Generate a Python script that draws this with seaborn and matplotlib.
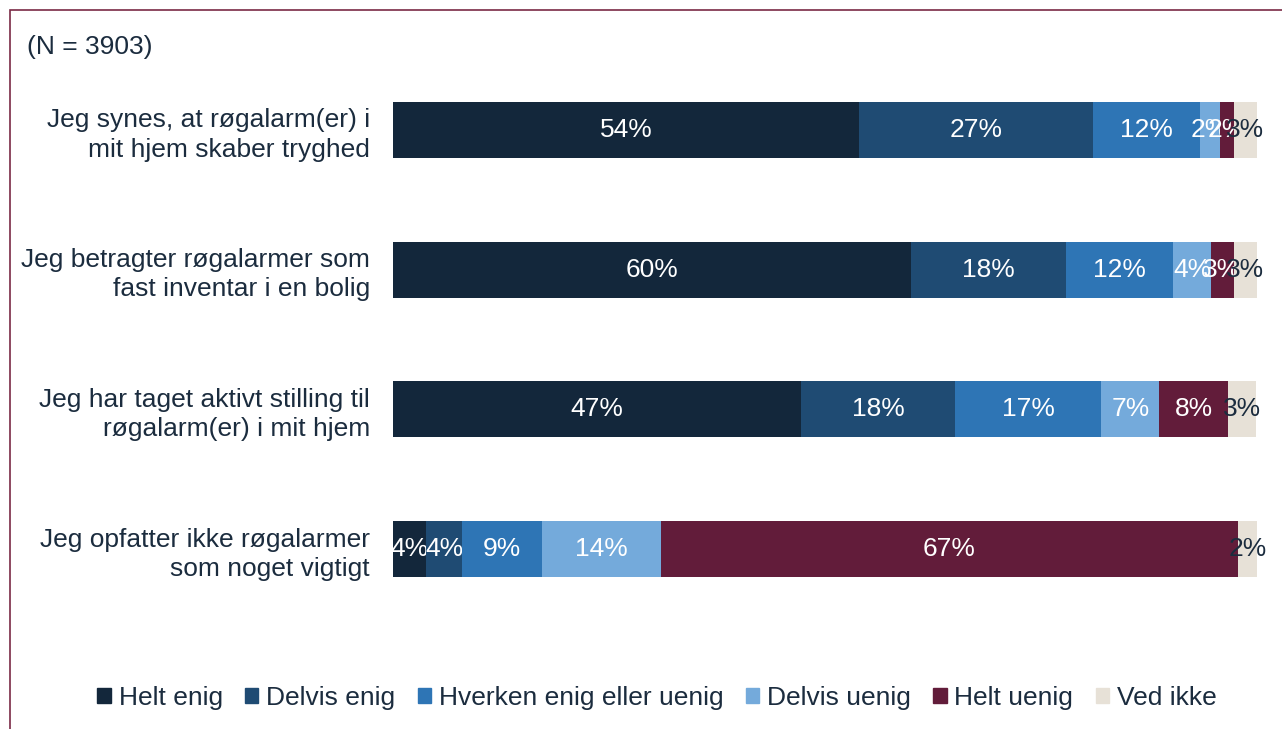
import numpy as np
import pandas as pd
import matplotlib
matplotlib.use('Agg')
import matplotlib.pyplot as plt
import matplotlib.patches as mpatches
import seaborn as sns

# Statements (y categories)
statements = [
    'Jeg synes, at røgalarm(er) i\nmit hjem skaber tryghed',
    'Jeg betragter røgalarmer som\nfast inventar i en bolig',
    'Jeg har taget aktivt stilling til\nrøgalarm(er) i mit hjem',
    'Jeg opfatter ikke røgalarmer\nsom noget vigtigt',
]

# Answer categories
answers = ['Helt enig', 'Delvis enig', 'Hverken enig eller uenig',
           'Delvis uenig', 'Helt uenig', 'Ved ikke']

# Shares in percent
helt_enig = [53.9, 60.0, 47.2, 3.8]
delvis_enig = [27.1, 17.9, 17.9, 4.2]
hverken = [12.4, 12.4, 16.9, 9.3]
delvis_uenig = [2.3, 4.4, 6.7, 13.7]
helt_uenig = [1.6, 2.6, 8.0, 66.8]
ved_ikke = [2.7, 2.7, 3.2, 2.2]

colors = ['#13273B', '#1F4B73', '#2E75B5', '#74AADB', '#621C3A', '#E7E1D7']
text_color = '#1B2C3E'
frame_color = '#7A2A45'
fs = 19

df = pd.DataFrame({
    'statement': statements,
    'Helt enig': helt_enig,
    'Delvis enig': delvis_enig,
    'Hverken enig eller uenig': hverken,
    'Delvis uenig': delvis_uenig,
    'Helt uenig': helt_uenig,
    'Ved ikke': ved_ikke,
})
cum = df[answers].cumsum(axis=1)
starts = cum - df[answers]

sns.set_theme(style='white')
plt.rcParams['font.family'] = ['Liberation Sans', 'DejaVu Sans']

fig = plt.figure(figsize=(12.82, 7.29), dpi=100)
ax = fig.add_axes([393 / 1282, 1 - 619 / 729, 864 / 1282, 559 / 729])

# stacked bars, each series drawn over the labels of the previous ones
for i, a in enumerate(answers):
    sns.barplot(x=df[a], y=df['statement'], orient='h', left=starts[a].values,
                color=colors[i], width=0.4, linewidth=0, saturation=1,
                zorder=2 + 2 * i, ax=ax)
    c = text_color if a == 'Ved ikke' else 'white'
    for r in range(len(df)):
        v = df.loc[r, a]
        mid = starts.loc[r, a] + v / 2
        ax.text(mid, r, f'{round(v):.0f}%', ha='center', va='center',
                fontsize=fs, color=c, zorder=3 + 2 * i)

ax.set_xlim(0, 100)
ax.set_ylim(len(df) - 0.5, -0.5)
ax.set_xlabel('')
ax.set_ylabel('')
ax.set_xticks([])
ax.tick_params(axis='y', length=0, pad=16.5, labelsize=fs, labelcolor=text_color)
for lbl in ax.get_yticklabels():
    lbl.set_linespacing(1.27)
for s in ax.spines.values():
    s.set_visible(False)

# legend
handles = [mpatches.Patch(color=colors[i], label=a) for i, a in enumerate(answers)]
fig.legend(handles=handles, loc='center', bbox_to_anchor=(657 / 1282, 1 - 698 / 729),
           ncol=6, frameon=False, fontsize=fs, handlelength=0.5, handleheight=0.5,
           handletextpad=0.3, columnspacing=0.85, labelcolor=text_color)

# N annotation
fig.text(27 / 1282, 1 - 47 / 729, '(N = 3903)', fontsize=fs, color=text_color,
         ha='left', va='center')

# frame (cut off at right and bottom)
fig.patches.append(mpatches.Rectangle((9.5 / 1282, -0.1), 1.2, 1 - 10.5 / 729 + 0.1,
                                      transform=fig.transFigure, fill=False,
                                      edgecolor=frame_color, linewidth=1.2))

fig.savefig('out.png', dpi=100)
